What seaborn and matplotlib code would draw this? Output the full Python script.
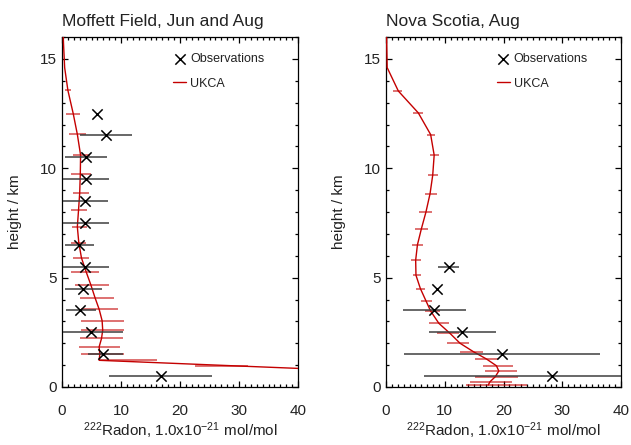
import numpy as np
import pandas as pd
import matplotlib
matplotlib.use("Agg")
import matplotlib.pyplot as plt
import seaborn as sns
from matplotlib.ticker import MultipleLocator

nan = np.nan

# ---------------- data ----------------
titles = ["Moffett Field, Jun and Aug", "Nova Scotia, Aug"]

# Moffett Field observations
mof_obs_height = [0.5, 1.5, 2.5, 3.5, 4.5, 5.5, 6.5, 7.5, 8.5, 9.5, 10.5, 11.5, 12.5]
mof_obs_radon = [16.7, 7.0, 4.85, 3.1, 3.6, 3.9, 2.8, 3.9, 3.95, 4.0, 4.0, 7.4, 6.0]
mof_obs_low = [8.0, 4.4, 0.2, 0.7, 0.5, 0.2, 0.5, 0.2, 0.2, 0.15, 0.5, 3.1, nan]
mof_obs_high = [25.5, 10.3, 10.3, 5.8, 6.7, 8.0, 5.4, 7.9, 7.8, 8.0, 7.6, 11.8, nan]

# Moffett Field UKCA profile
mof_mod_height = [17.0, 15.74, 14.6, 13.56, 12.5, 11.55, 10.6, 9.73, 8.87, 8.08, 7.32,
                  6.59, 5.9, 5.26, 4.66, 4.08, 3.55, 3.03, 2.6, 2.22, 1.84, 1.49, 1.22,
                  0.97, 0.72, 0.5, 0.3]
mof_mod_radon = [0.1, 0.25, 0.45, 1.0, 1.9, 2.6, 3.15, 3.1, 3.0, 2.8, 2.6,
                 2.85, 3.3, 4.1, 4.9, 5.6, 6.3, 6.8, 6.9, 6.7, 6.3, 6.4, 6.3,
                 29.0, 52.0, 60.0, 62.0]
mof_mod_low = [nan, nan, nan, 0.45, 0.7, 1.2, 1.8, 1.6, 1.8, 1.5, 1.7,
               1.6, 1.8, 1.5, 2.2, 3.05, 3.3, 3.2, 3.2, 3.05, 2.8, 3.3, 6.4,
               22.5, 45.0, 50.0, 52.0]
mof_mod_high = [nan, nan, nan, 1.5, 3.0, 4.1, 4.8, 4.9, 4.5, 4.3, 4.2,
                4.1, 4.6, 6.3, 7.9, 8.8, 9.5, 10.5, 10.5, 10.3, 9.8, 10.5, 16.1,
                31.5, 60.0, 70.0, 72.0]

# Nova Scotia observations
nsc_obs_height = [0.5, 1.5, 2.5, 3.5, 4.5, 5.5]
nsc_obs_radon = [28.3, 19.7, 13.0, 8.1, 8.7, 10.7]
nsc_obs_low = [6.5, 3.1, 7.4, 2.9, nan, 8.9]
nsc_obs_high = [45.0, 36.5, 18.8, 13.7, nan, 12.5]

# Nova Scotia UKCA profile
nsc_mod_height = [17.0, 15.74, 14.6, 13.53, 12.53, 11.54, 10.6, 9.68, 8.84, 8.0, 7.21,
                  6.5, 5.8, 5.11, 4.5, 3.94, 3.47, 2.91, 2.45, 2.0, 1.61, 1.28, 0.97,
                  0.73, 0.47, 0.24, 0.09]
nsc_mod_radon = [0.05, 0.12, 0.2, 2.1, 5.5, 7.6, 8.2, 7.95, 7.5, 6.8, 6.0,
                 5.35, 5.05, 5.1, 5.85, 6.8, 7.6, 9.0, 10.9, 12.6, 14.9, 17.1, 18.8,
                 19.2, 18.6, 17.7, 17.4]
nsc_mod_low = [nan, nan, nan, 1.25, 4.65, 6.9, 7.5, 7.2, 6.6, 5.7, 4.9,
               4.5, 4.25, 4.65, 5.1, 6.0, 6.6, 7.3, 8.6, 10.3, 12.6, 15.1, 16.5,
               16.8, 15.1, 14.3, 13.6]
nsc_mod_high = [nan, nan, nan, 2.7, 6.35, 8.3, 9.1, 8.9, 8.6, 7.9, 7.1,
                6.35, 5.9, 5.9, 6.6, 7.9, 9.2, 10.8, 12.5, 14.2, 16.5, 19.1, 21.6,
                22.3, 22.5, 21.4, 24.0]

x_ticks = [0, 10, 20, 30, 40]
y_ticks = [0, 5, 10, 15]
x_label = r"$^{222}$Radon, 1.0x10$^{-21}$ mol/mol"
y_label = "height / km"

# ---------------- style ----------------
sns.set_theme(style="white")
plt.rcParams["font.family"] = ["Liberation Sans", "DejaVu Sans"]
plt.rcParams["mathtext.fontset"] = "custom"
plt.rcParams["mathtext.rm"] = "Liberation Sans"
plt.rcParams["mathtext.it"] = "Liberation Sans:italic"
plt.rcParams["mathtext.default"] = "regular"

RED = "#c40000"
TXT = "#222222"

fig = plt.figure(figsize=(6.31, 4.45), dpi=100)
ax_l = fig.add_axes([62 / 631, 1 - 387 / 445, 236 / 631, 350 / 445])
ax_r = fig.add_axes([386 / 631, 1 - 387 / 445, 235 / 631, 350 / 445])

panels = [
    (ax_l, titles[0], mof_obs_height, mof_obs_radon, mof_obs_low, mof_obs_high,
     mof_mod_height, mof_mod_radon, mof_mod_low, mof_mod_high),
    (ax_r, titles[1], nsc_obs_height, nsc_obs_radon, nsc_obs_low, nsc_obs_high,
     nsc_mod_height, nsc_mod_radon, nsc_mod_low, nsc_mod_high),
]

for (ax, title, oh, ov, olo, ohi, mh, mv, mlo, mhi) in panels:
    mod = pd.DataFrame({"height": mh, "radon": mv, "low": mlo, "high": mhi})
    obs = pd.DataFrame({"height": oh, "radon": ov, "low": olo, "high": ohi})

    # model spread bars
    mb = mod.dropna()
    ax.hlines(mb["height"], mb["low"], mb["high"], color=RED, alpha=0.6,
              lw=1.3, zorder=2)
    # model line
    sns.lineplot(data=mod, x="radon", y="height", sort=False, estimator=None,
                 color=RED, lw=1.0, ax=ax, label="UKCA", zorder=3)
    # observation spread bars
    ob = obs.dropna()
    ax.hlines(ob["height"], ob["low"], ob["high"], color="#3a3a3a", alpha=0.9,
              lw=1.2, zorder=4)
    # observations
    sns.scatterplot(data=obs, x="radon", y="height", marker="x", color="black",
                    s=55, linewidth=1.1, ax=ax, label="Observations", zorder=5)

    ax.set_xlim(0, 40)
    ax.set_ylim(0, 16)
    ax.set_xticks(x_ticks)
    ax.set_yticks(y_ticks)
    ax.xaxis.set_minor_locator(MultipleLocator(1))
    ax.yaxis.set_minor_locator(MultipleLocator(1))
    ax.tick_params(which="both", direction="in", top=True, right=True,
                   bottom=True, left=True, colors="black", labelcolor=TXT,
                   width=0.9)
    ax.tick_params(which="major", length=4.5)
    ax.tick_params(which="minor", length=2.2)
    ax.tick_params(axis="x", which="major", pad=12, labelsize=11)
    ax.tick_params(axis="y", which="major", pad=4, labelsize=11)
    for sp in ax.spines.values():
        sp.set_color("black")
        sp.set_linewidth(0.9)

    ax.set_xlabel(x_label, fontsize=11, color=TXT, labelpad=2)
    ax.set_ylabel(y_label, fontsize=11, color=TXT)
    ax.yaxis.set_label_coords(-0.17, 0.5)
    ax.set_title(title, loc="left", fontsize=12.5, color=TXT, pad=8)

    handles, labels = ax.get_legend_handles_labels()
    order = [labels.index("Observations"), labels.index("UKCA")]
    ax.legend([handles[i] for i in order], [labels[i] for i in order],
              loc="upper left", bbox_to_anchor=(0.44, 0.975), frameon=False,
              fontsize=9, handlelength=1.05, handletextpad=0.3,
              labelspacing=1.0, labelcolor=TXT, borderaxespad=0.2)

fig.savefig("out.png", dpi=100)
